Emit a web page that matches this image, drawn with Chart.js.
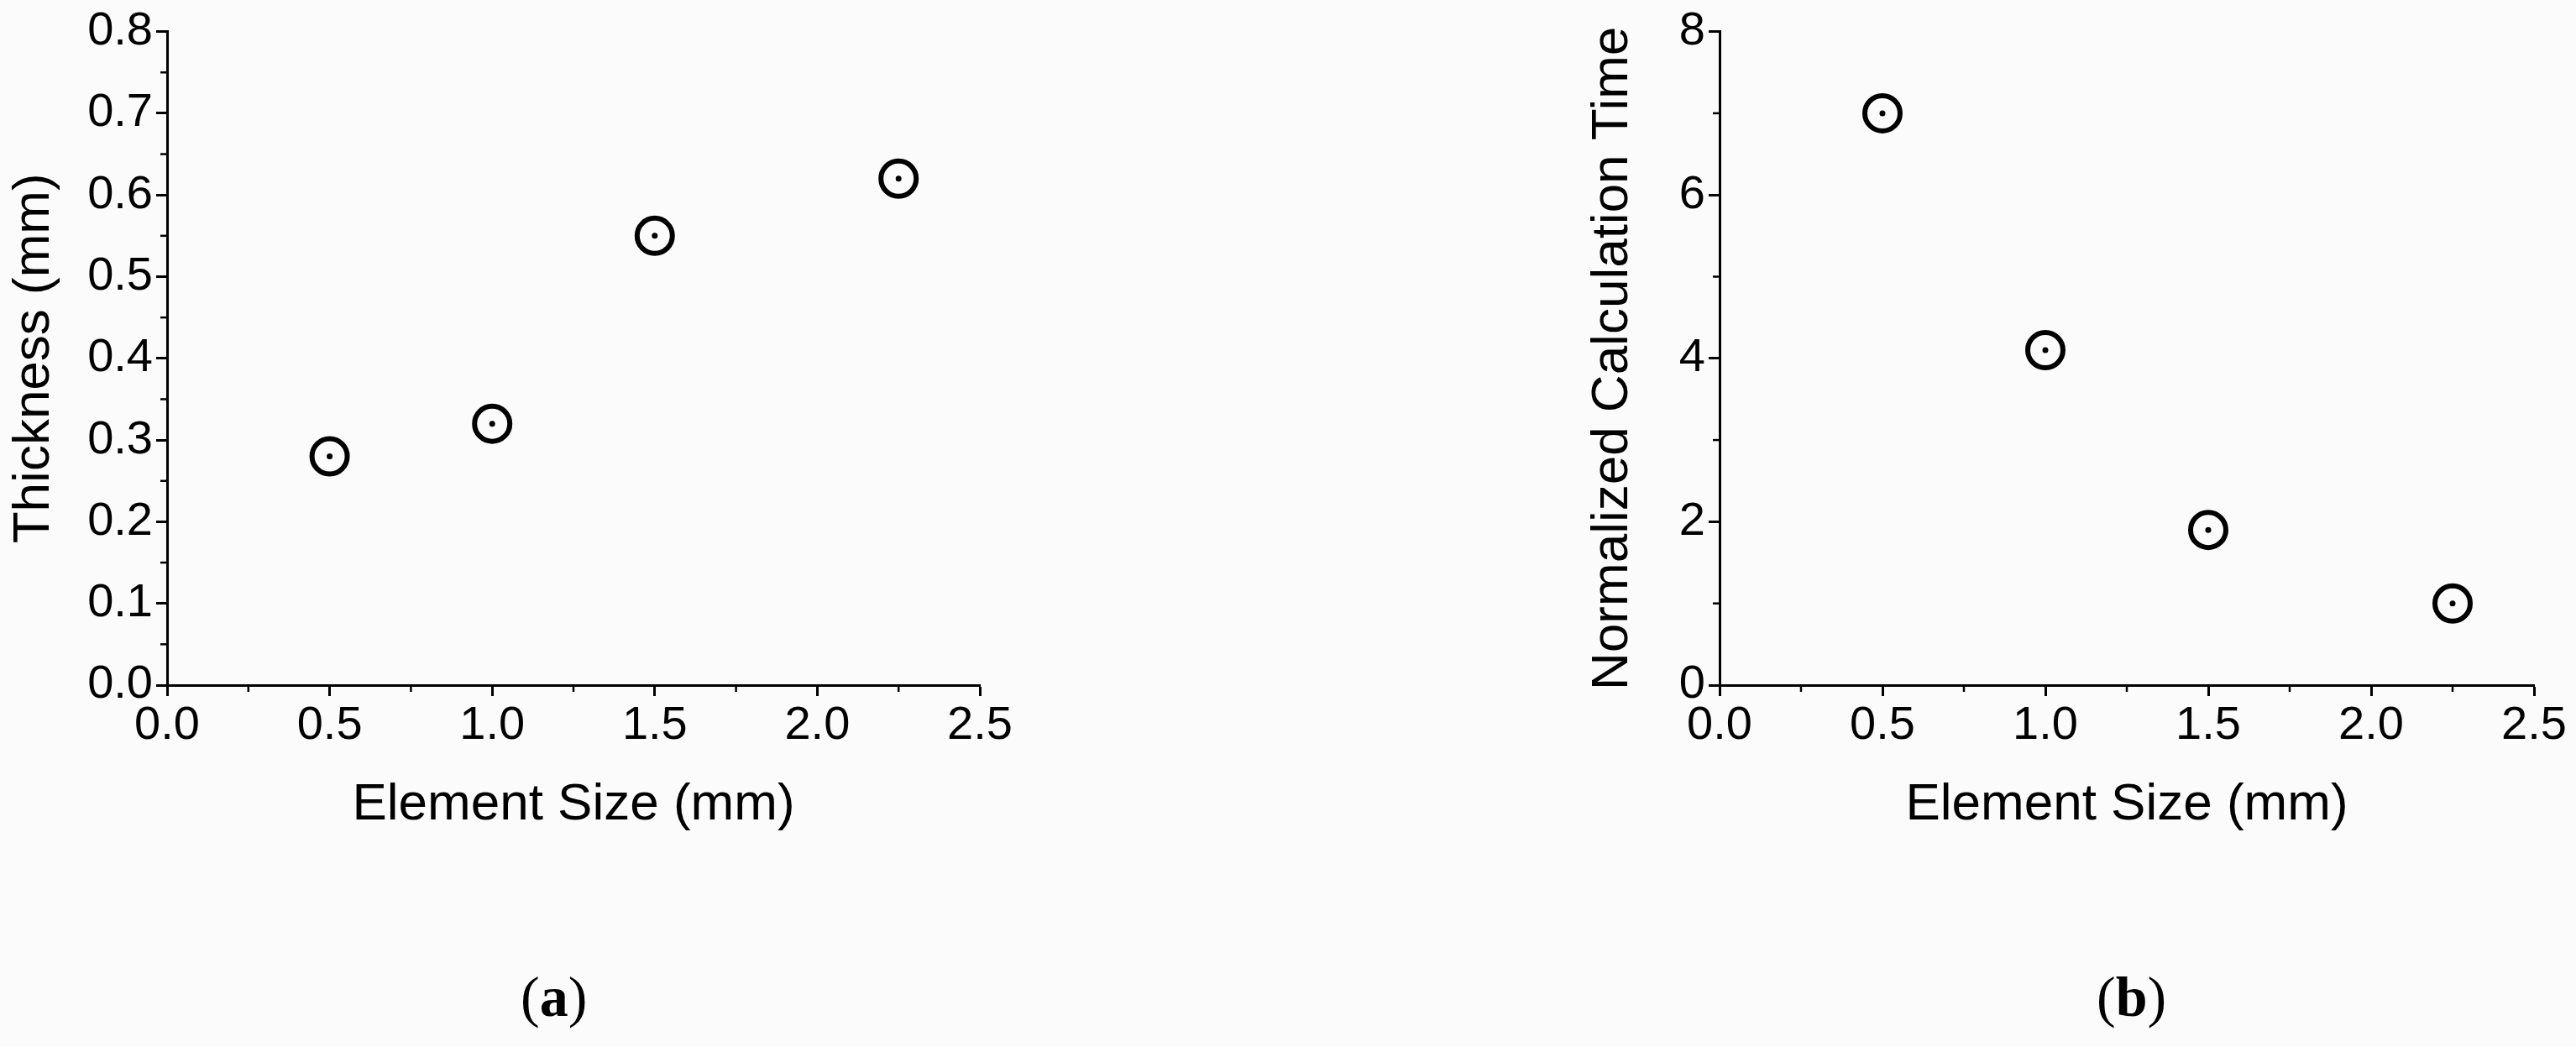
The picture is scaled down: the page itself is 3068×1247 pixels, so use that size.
<!DOCTYPE html>
<html><head><meta charset="utf-8">
<script src="https://cdn.jsdelivr.net/npm/chart.js@4"></script>
<style>
body{margin:0;width:3068px;height:1247px;background:#fbfbfb;position:relative;overflow:hidden;font-family:Arial,"Liberation Sans",sans-serif}
.c{position:absolute;top:0;height:1000px}
.lab{position:absolute;font-family:"Liberation Serif","DejaVu Serif",serif;font-size:68px;top:1148px}
</style></head><body>
<div class="c" style="left:0;width:1250px"><canvas id="a"></canvas></div>
<div class="c" style="left:1880px;width:1188px"><canvas id="b"></canvas></div>
<div class="lab" style="left:620px">(<b>a</b>)</div>
<div class="lab" style="left:2497px">(<b>b</b>)</div>
<script>
const elementSize=[0.5,1.0,1.5,2.25];
const thickness=[0.28,0.32,0.55,0.62];
const calcTime=[7.0,4.1,1.9,1.0];
const xTicks=[0,0.5,1.0,1.5,2.0,2.5];
const yTicksA=[0,0.1,0.2,0.3,0.4,0.5,0.6,0.7,0.8];
const yTicksB=[0,2,4,6,8];

const minor={id:'minor',afterDraw(ch,args,o){const c=ch.ctx;c.save();c.strokeStyle='#000';c.lineWidth=2.5;
 const xs=ch.scales.x,ys=ch.scales.y;
 for(let v=o.xmin;v<=o.xmax+1e-9;v+=o.xstep){const p=xs.getPixelForValue(v);c.beginPath();c.moveTo(p,ys.bottom);c.lineTo(p,ys.bottom+8);c.stroke();}
 for(let v=o.ymin;v<=o.ymax+1e-9;v+=o.ystep){const p=ys.getPixelForValue(v);c.beginPath();c.moveTo(xs.left,p);c.lineTo(xs.left-8,p);c.stroke();}
 c.restore();}};

function mk(id,ydata,ymax,ystep,yticks,ytitle,yw,padR,fmt){
 const pts=elementSize.map((x,i)=>({x,y:ydata[i]}));
 new Chart(document.getElementById(id),{type:'scatter',
 data:{datasets:[
  {data:pts,pointRadius:21,pointBorderWidth:6,pointBorderColor:'#000',pointBackgroundColor:'rgba(0,0,0,0)',pointHoverRadius:21},
  {data:pts,pointRadius:3.5,pointBorderWidth:0,pointBackgroundColor:'#000',pointHoverRadius:3.5}]},
 options:{responsive:false,animation:false,devicePixelRatio:1,
  layout:{padding:{top:36,right:padR,left:0,bottom:0}},
  plugins:{legend:{display:false},tooltip:{enabled:false},
   minor:{xmin:0.25,xmax:2.25,xstep:0.5,ymin:ystep/2,ymax:ymax,ystep:ystep}},
  scales:{
   x:{type:'linear',min:0,max:2.5,afterBuildTicks:s=>{s.ticks=xTicks.map(v=>({value:v}))},
    afterFit:s=>{s.height=184},
    border:{color:'#000',width:3},grid:{drawOnChartArea:false,tickLength:13,tickColor:'#000',tickWidth:3},
    ticks:{color:'#000',font:{size:56,family:'Arial'},padding:2,maxRotation:0,callback:v=>v.toFixed(1)},
    title:{display:true,text:'Element Size (mm)',color:'#000',font:{size:62,family:'Arial'},padding:{top:4}}},
   y:{min:0,max:ymax,afterBuildTicks:s=>{s.ticks=yticks.map(v=>({value:v}))},
    afterFit:s=>{s.width=yw},
    border:{color:'#000',width:3},grid:{drawOnChartArea:false,tickLength:13,tickColor:'#000',tickWidth:3},
    ticks:{color:'#000',font:{size:56,family:'Arial'},padding:4,callback:fmt},
    title:{display:true,text:ytitle,color:'#000',font:{size:62,family:'Arial'},padding:{bottom:4}}}}},
 plugins:[minor]});
}
document.getElementById('a').width=1250;document.getElementById('a').height=1000;
document.getElementById('b').width=1188;document.getElementById('b').height=1000;
mk('a',thickness,0.8,0.1,yTicksA,'Thickness (mm)',199,83,v=>v.toFixed(1));
mk('b',calcTime,8,2,yTicksB,'Normalized Calculation Time',168,50,v=>v.toFixed(0));
</script></body></html>
